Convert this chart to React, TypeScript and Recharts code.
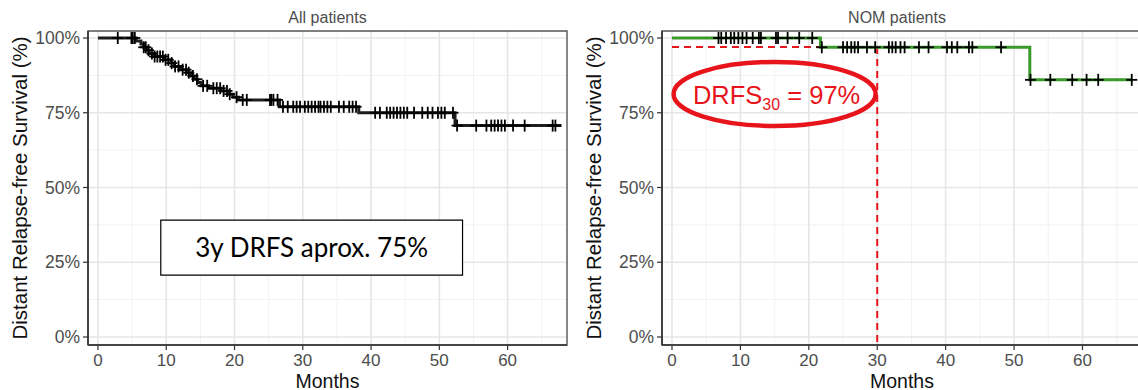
import React from 'react';
import {
  ComposedChart,
  Line,
  Scatter,
  XAxis,
  YAxis,
  CartesianGrid,
  ReferenceArea,
  ReferenceLine,
  ReferenceDot,
} from 'recharts';

// ---------- data ----------
const panelTitles = ['All patients', 'NOM patients'];
const xAxisTitle = 'Months';
const yAxisTitle = 'Distant Relapse-free Survival (%)';

const xTicks = [0, 10, 20, 30, 40, 50, 60];
const xMinorTicks = [5, 15, 25, 35, 45, 55, 65];
const yTicks = [0, 25, 50, 75, 100];
const yMinorTicks = [12.5, 37.5, 62.5, 87.5];

// All patients: Kaplan-Meier step times (months) and survival (%) after each step
const allStepMonths = [0, 5.6, 6.3, 6.7, 7.1, 7.5, 8.3, 9.6, 10.7, 11.2, 12.1, 13.1, 13.6, 14.1, 14.6, 15.1, 16.2, 18.0, 19.2, 19.8, 20.6, 26.6, 38.2, 52.3, 67.9];
const allStepSurvival = [100, 99.0, 98.0, 96.9, 95.9, 94.8, 93.8, 92.7, 91.6, 90.5, 89.4, 88.4, 87.3, 86.2, 85.1, 84.0, 83.2, 82.3, 81.2, 80.2, 79.3, 77.0, 75.0, 70.7, 70.7];
const allCensorMonths = [
  2.9, 4.9, 5.1, 5.4,
  6.7, 7.0, 7.4, 7.9, 8.3, 8.7, 9.1, 9.5, 9.9, 10.3, 10.8, 11.3, 11.8, 12.4, 12.9, 13.3, 13.9, 14.5, 15.4, 16.0, 16.9, 17.4, 17.9, 18.4, 18.9, 19.3, 20.3, 21.2, 21.8,
  25.2, 25.4, 25.7, 26.3,
  27.1, 27.8, 28.6, 29.1, 29.6, 30.3, 30.8, 31.3, 31.8, 32.3, 32.6, 33.1, 33.6, 34.1, 35.3, 36.0, 36.8, 37.3, 37.8,
  40.6, 41.3, 42.3, 42.8, 43.3, 43.8, 44.3, 44.8, 45.3, 46.3, 47.5, 48.3, 49.0, 49.8, 50.3, 50.8, 52.0,
  52.6, 55.4, 56.9, 57.6, 58.1, 58.6, 59.1, 59.6, 60.8, 62.5, 66.6, 67.0,
];

// NOM patients
const nomStepMonths = [0, 21.7, 52.3, 67.2];
const nomStepSurvival = [100, 96.9, 86.0, 86.0];
const nomCensorMonths = [
  6.8, 7.2, 7.9, 8.6, 9.1, 9.7, 10.3, 10.9, 11.8, 12.7, 13.0, 15.2, 15.5, 16.9, 18.6, 20.5,
  21.9, 25.0, 25.6, 26.2, 26.7, 27.2, 28.5, 29.7, 31.7, 32.2, 32.7, 33.4, 34.0, 36.1, 37.5, 40.2, 40.9, 41.7, 43.4, 43.9, 48.1,
  52.4, 55.3, 58.5, 60.6, 62.3, 67.2,
];

// annotations (data coordinates)
const drfsMonth = 30;
const drfsValue = 97;
const allNoteText = '3y DRFS aprox. 75%';
const allNoteBox = { x1: 9.2, x2: 53.4, y1: 20.7, y2: 39.1 };
const nomNoteCenter = { x: 15.0, y: 81.3 };

// ---------- helpers ----------
const xDomain: [number, number] = [-1.46, 68.7];
const yDomain: [number, number] = [-2.68, 102.34];

const survAt = (ms: number[], ps: number[], t: number) => {
  let v = ps[0];
  for (let i = 0; i < ms.length; i++) if (ms[i] <= t) v = ps[i];
  return v;
};
const toSteps = (ms: number[], ps: number[]) => ms.map((m, i) => ({ m, p: ps[i] }));
const toCensors = (cs: number[], ms: number[], ps: number[]) => cs.map((m) => ({ m, p: survAt(ms, ps, m) }));

const FONT = '"Liberation Sans", Arial, sans-serif';

const Cross = (props: any) => {
  const { cx, cy } = props;
  if (cx == null || cy == null) return null;
  return (
    <g stroke="#000" strokeWidth={1.8}>
      <line x1={cx - 5.5} x2={cx + 5.5} y1={cy} y2={cy} />
      <line x1={cx} x2={cx} y1={cy - 6} y2={cy + 6} />
    </g>
  );
};

const NomEllipse = (props: any) => {
  const { cx, cy } = props;
  if (cx == null || cy == null) return null;
  return (
    <g>
      <ellipse cx={cx} cy={cy} rx={101} ry={32} fill="none" stroke="#e8141c" strokeWidth={4.5} />
      <text x={cx + 2} y={cy + 10} textAnchor="middle" fill="#e8141c" fontSize={25.5} fontFamily={FONT}>
        DRFS
        <tspan fontSize={16} dy={6}>30</tspan>
        <tspan dy={-6}> = 97%</tspan>
      </text>
    </g>
  );
};

const XTitle = (props: any) => {
  const vb = props.viewBox;
  return (
    <text x={vb.x + vb.width / 2} y={vb.y + 42.5} textAnchor="middle" fontSize={19.5} fill="#111" fontFamily={FONT}>
      {xAxisTitle}
    </text>
  );
};
const YTitle = (props: any) => {
  const vb = props.viewBox;
  const cy = vb.y + vb.height / 2;
  const x = 27;
  return (
    <text transform={`translate(${x},${cy}) rotate(-90)`} textAnchor="middle" fontSize={20.5} fill="#111" fontFamily={FONT}>
      {yAxisTitle}
    </text>
  );
};

const BoxLabel = (props: any) => {
  const vb = props.viewBox;
  return (
    <text x={vb.x + vb.width / 2} y={vb.y + 37} textAnchor="middle" fontSize={26} fill="#000" fontFamily="Lato, 'Open Sans', sans-serif">
      {allNoteText}
    </text>
  );
};

type PanelProps = {
  left: number;
  rightMargin: number;
  steps: { m: number; p: number }[];
  censors: { m: number; p: number }[];
  color: string;
  children?: React.ReactNode;
  after?: React.ReactNode;
};

const Panel = ({ left, rightMargin, steps, censors, color, children, after }: PanelProps) => (
  <div style={{ position: 'absolute', left, top: 0, width: 580, height: 390 }}>
    <ComposedChart width={580} height={390} margin={{ top: 31, right: rightMargin, bottom: 0, left: 0 }}>
      <CartesianGrid horizontal vertical horizontalValues={yMinorTicks} verticalValues={xMinorTicks} stroke="#f0f0f0" strokeWidth={0.9} />
      <CartesianGrid horizontal vertical horizontalValues={yTicks} verticalValues={xTicks} stroke="#e6e6e6" strokeWidth={1.6} />
      <XAxis
        type="number"
        dataKey="m"
        domain={xDomain}
        ticks={xTicks}
        allowDataOverflow
        height={45}
        tickSize={5}
        tickMargin={4}
        tick={{ fill: '#4d4d4d', fontSize: 17 }}
        tickLine={{ stroke: '#333', strokeWidth: 1.2 }}
        axisLine={{ stroke: '#333', strokeWidth: 1.6 }}
        label={<XTitle />}
      />
      <YAxis
        type="number"
        dataKey="p"
        domain={yDomain}
        ticks={yTicks}
        allowDataOverflow
        width={88}
        tickSize={5}
        tickMargin={3}
        tickFormatter={(v: number) => `${v}%`}
        tick={{ fill: '#4d4d4d', fontSize: 17.5 }}
        tickLine={{ stroke: '#333', strokeWidth: 1.2 }}
        axisLine={{ stroke: '#333', strokeWidth: 1.6 }}
        label={<YTitle />}
      />
      <ReferenceArea x1={xDomain[0]} x2={xDomain[1]} y1={yDomain[0]} y2={yDomain[1]} fill="none" fillOpacity={0} stroke="#555" strokeWidth={1.4} ifOverflow="visible" />
      {children}
      <Line data={steps} dataKey="p" type="stepAfter" stroke={color} strokeWidth={3} dot={false} activeDot={false} isAnimationActive={false} />
      <Scatter data={censors} dataKey="p" shape={<Cross />} isAnimationActive={false} />
      {after}
    </ComposedChart>
  </div>
);

export default function App() {
  const allSteps = toSteps(allStepMonths, allStepSurvival);
  const allCens = toCensors(allCensorMonths, allStepMonths, allStepSurvival);
  const nomSteps = toSteps(nomStepMonths, nomStepSurvival);
  const nomCens = toCensors(nomCensorMonths, nomStepMonths, nomStepSurvival);
  return (
    <div style={{ position: 'absolute', left: 0, top: 0, width: 1138, height: 390, overflow: 'hidden', background: '#fff', fontFamily: FONT }}>
      <Panel
        left={0}
        rightMargin={13}
        steps={allSteps}
        censors={allCens}
        color="#1e1e1e"
        after={
          <ReferenceArea
            x1={allNoteBox.x1}
            x2={allNoteBox.x2}
            y1={allNoteBox.y1}
            y2={allNoteBox.y2}
            fill="#fff"
            fillOpacity={1}
            stroke="#000"
            strokeWidth={1.2}
            label={<BoxLabel />}
          />
        }
      />
      <Panel
        left={574}
        rightMargin={12}
        steps={nomSteps}
        censors={nomCens}
        color="#3a9a2a"
        children={
          <>
            <ReferenceLine segment={[{ x: 0, y: drfsValue }, { x: drfsMonth, y: drfsValue }]} stroke="#e8141c" strokeWidth={2} strokeDasharray="7 5" />
            <ReferenceLine segment={[{ x: drfsMonth, y: drfsValue }, { x: drfsMonth, y: yDomain[0] }]} stroke="#e8141c" strokeWidth={2} strokeDasharray="7 5" />
          </>
        }
        after={<ReferenceDot x={nomNoteCenter.x} y={nomNoteCenter.y} r={1} shape={<NomEllipse />} ifOverflow="visible" />}
      />
      <svg width={1138} height={390} style={{ position: 'absolute', left: 0, top: 0, pointerEvents: 'none' }}>
        <text x={327.5} y={23} textAnchor="middle" fontSize={16} fill="#4d4d4d" fontFamily={FONT}>{panelTitles[0]}</text>
        <text x={897} y={23} textAnchor="middle" fontSize={16} fill="#4d4d4d" fontFamily={FONT}>{panelTitles[1]}</text>
      </svg>
    </div>
  );
}
